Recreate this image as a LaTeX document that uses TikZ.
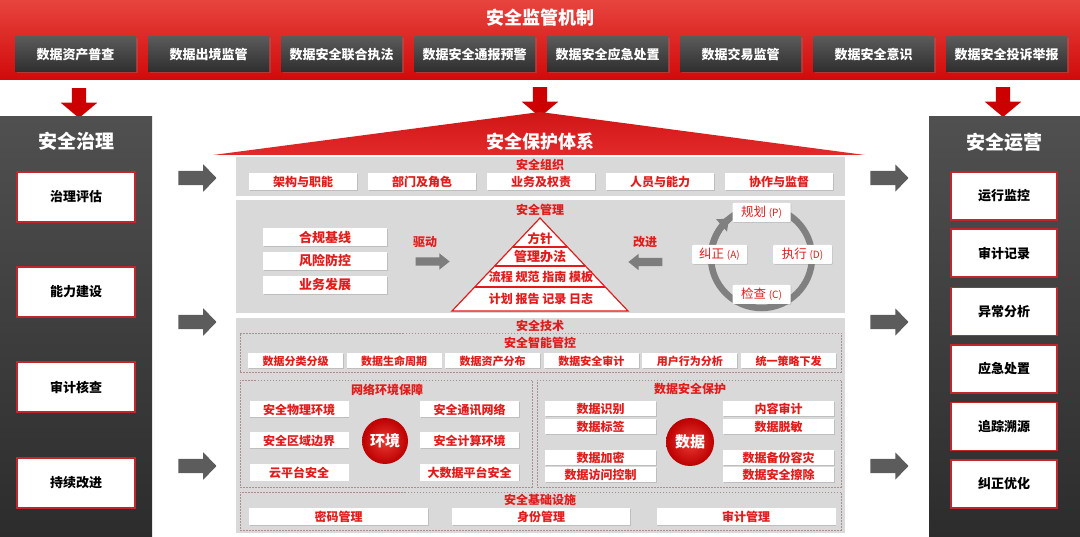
\documentclass[tikz,border=0pt]{standalone}
\usepackage{fontspec}
\setmainfont{Noto Sans CJK SC}
\usetikzlibrary{shapes.arrows,shadows,arrows.meta}
\definecolor{barTop}{HTML}{E8443E}
\definecolor{barBot}{HTML}{D00A0A}
\definecolor{dkTop}{HTML}{5A5A5A}
\definecolor{dkBot}{HTML}{2E2E2E}
\definecolor{pnTop}{HTML}{505050}
\definecolor{pnBot}{HTML}{2C2C2C}
\definecolor{arrGray}{HTML}{5C5C5C}
\definecolor{arrRed}{HTML}{CC0000}
\definecolor{secGray}{HTML}{D9D9D9}
\definecolor{txtRed}{HTML}{E31B1B}
\definecolor{boxRed}{HTML}{C0262B}
\definecolor{ringGray}{HTML}{808080}
\definecolor{dashCol}{HTML}{A89090}
\definecolor{circIn}{HTML}{EA3A34}
\definecolor{circOut}{HTML}{BC0000}
\definecolor{roofTop}{HTML}{D01515}
\definecolor{roofBot}{HTML}{E32A2A}
\newcommand\fz[1]{\fontsize{#1}{#1}\selectfont}
\begin{document}
\begin{tikzpicture}[x=1pt,y=-1pt,
  bar/.style={rectangle,inner sep=0,minimum width=1080,minimum height=80,top color=barTop,bottom color=barBot},
  wtitle/.style={text=white,font=\bfseries\fz{18},inner sep=0},
  mbox/.style={rectangle,inner sep=0,minimum width=121,minimum height=35,top color=dkTop,bottom color=dkBot,text=white,font=\bfseries\fz{13},drop shadow={shadow xshift=1.5pt,shadow yshift=-1.5pt,opacity=.35}},
  redarr/.style={single arrow,rotate=-90,fill=arrRed,inner xsep=0,inner ysep=7,minimum height=30,minimum width=36,single arrow head extend=11,single arrow tip angle=100},
  grayarr/.style={single arrow,fill=arrGray,inner xsep=0,inner ysep=7,minimum height=38,minimum width=27,single arrow head extend=6.5,single arrow tip angle=92},
  smallarr/.style={single arrow,fill=arrGray!80,inner xsep=0,inner ysep=4,minimum height=34,minimum width=16,single arrow head extend=4,single arrow tip angle=77},
  panel/.style={rectangle,inner sep=0,top color=pnTop,bottom color=pnBot},
  ptitle/.style={text=white,font=\bfseries\fz{19},inner sep=0},
  lbox/.style={rectangle,fill=white,draw=boxRed,line width=1.2,inner sep=0,font=\bfseries\fz{13},text=black,drop shadow={shadow xshift=1pt,shadow yshift=-1pt,opacity=.4}},
  sec/.style={rectangle,fill=secGray,inner sep=0,minimum width=609},
  stitle/.style={text=txtRed,font=\bfseries\fz{12},inner sep=0},
  wb/.style={rectangle,fill=white,inner sep=0,text=txtRed,font=\bfseries\fz{12},drop shadow={shadow xshift=.8pt,shadow yshift=-.8pt,opacity=.3}},
  dbox/.style={rectangle,draw=dashCol,dash pattern=on 1.5pt off 1.5pt,line width=.6,inner sep=0},
  rcirc/.style={circle,inner color=circIn,outer color=circOut,text=white,font=\bfseries\fz{15},inner sep=0},
  plbl/.style={rectangle,fill=white,text=txtRed,font=\fz{12.5},inner sep=0,minimum height=19,rounded corners=1,drop shadow={shadow xshift=.8pt,shadow yshift=-.8pt,opacity=.25}}
]
\useasboundingbox (0,0) rectangle (1080,537);
% top bar
\node[bar] (jz) at (540,40) {};
\node[wtitle] (jzt) at (540,18) {安全监管机制};
\foreach \i/\t in {0/数据资产普查,1/数据出境监管,2/数据安全联合执法,3/数据安全通报预警,4/数据安全应急处置,5/数据交易监管,6/数据安全意识,7/数据安全投诉举报}
  \node[mbox] (m\i) at ({75.5+133*\i},54.5) {\t};
% red arrows
\node[redarr] (ra1) at (79,100) {};
\node[redarr] (ra2) at (540,99) {};
\node[redarr] (ra3) at (1003,99) {};
% side panels
\node[panel,minimum width=152,minimum height=420] (zl) at (76,327) {};
\node[panel,minimum width=151,minimum height=420] (yy) at (1004.5,327) {};
\node[ptitle] (zlt) at (76,141) {安全治理};
\node[ptitle] (yyt) at (1004,142) {安全运营};
\foreach \i/\y/\t in {1/197/治理评估,2/292/能力建设,3/387/审计核查,4/483/持续改进}
  \node[lbox,minimum width=118,minimum height=50] (l\i) at (76,\y) {\t};
\foreach \i/\y/\t in {1/196/运行监控,2/253/审计记录,3/311.5/异常分析,4/369/应急处置,5/426.5/追踪溯源,6/484/纠正优化}
  \node[lbox,minimum width=106,minimum height=48] (r\i) at (1004,\y) {\t};
% gray arrows
\foreach \i/\y in {1/178,2/322,3/466}{
  \node[grayarr] (gl\i) at (194,\y) {};
  \node[grayarr] (gr\i) at (886,\y) {};
}
% roof
\shade[top color=roofTop,bottom color=roofBot] (213,155) -- (540,112) -- (865,155) -- cycle;
\node[wtitle] (bht) at (540,142) {安全保护体系};
% section 1
\node[sec,minimum height=39] (s1) at (540.5,176.5) {};
\node[stitle] (s1t) at (540,165) {安全组织};
\foreach \i/\t in {0/架构与职能,1/部门及角色,2/业务及权责,3/人员与能力,4/协作与监督}
  \node[wb,minimum width=108,minimum height=17] (o\i) at ({303+119*\i},181.5) {\t};
% section 2
\node[sec,minimum height=113] (s2) at (540.5,257) {};
\node[stitle] (s2t) at (540,210) {安全管理};
\node[wb,minimum width=124,minimum height=18,font=\bfseries\fz{13}] (g1) at (325,237.5) {合规基线};
\node[wb,minimum width=124,minimum height=18,font=\bfseries\fz{13}] (g2) at (325,261) {风险防控};
\node[wb,minimum width=124,minimum height=18,font=\bfseries\fz{13}] (g3) at (325,285) {业务发展};
\node[stitle] (qd) at (425,242) {驱动};
\node[smallarr] (qda) at (430,261.5) {};
\node[stitle] (gj) at (645,242) {改进};
\node[smallarr,rotate=180] (gja) at (648,262) {};
% pyramid
\draw[fill=white,draw=txtRed,line width=1.2] (452,311) -- (540,218) -- (628,311) -- cycle;
\draw[txtRed,line width=1.2] (512.6,247) -- (567.4,247) (494.6,266) -- (585.4,266) (474.7,287) -- (605.3,287);
\node[stitle,font=\bfseries\fz{12.5}] (p1) at (540,238.5) {方针};
\node[stitle,font=\bfseries\fz{13}] (p2) at (540,256.5) {管理办法};
\node[stitle,font=\bfseries\fz{12}] (p3) at (541,277) {流程 规范 指南 模板};
\node[stitle,font=\bfseries\fz{12}] (p4) at (541,299) {计划 报告 记录 日志};
% PDCA
\node[circle,draw=ringGray,line width=6.5,minimum size=101,inner sep=0] (pdca) at (761.5,257.5) {};
\draw[ringGray,line width=6.5,-{Triangle[length=10pt,width=16pt]}] plot[domain=170:130,samples=20] ({761.5+50.5*cos(\x)},{257.5-50.5*sin(\x)});
\node[plbl,minimum width=58] (pP) at (761.5,212.5) {规划 {\fz{10}(P)}};
\node[plbl,minimum width=55] (pA) at (719.5,254.5) {纠正 {\fz{10}(A)}};
\node[plbl,minimum width=59] (pD) at (802.5,254.5) {执行 {\fz{10}(D)}};
\node[plbl,minimum width=58] (pC) at (761.5,294.5) {检查 {\fz{10}(C)}};
% section 3
\node[sec,minimum height=215] (s3) at (540.5,425.5) {};
\node[stitle] (s3t) at (540,326) {安全技术};
\node[dbox,minimum width=601,minimum height=39] (da) at (540.5,352.5) {};
\node[stitle] (dat) at (540,343) {安全智能管控};
\foreach \i/\t in {0/数据分类分级,1/数据生命周期,2/数据资产分布,3/数据安全审计,4/用户行为分析,5/统一策略下发}
  \node[wb,minimum width=95,minimum height=15,font=\bfseries\fz{11}] (z\i) at ({295.5+98.6*\i},361) {\t};
% network
\node[dbox,minimum width=292,minimum height=107] (db) at (386,433.5) {};
\node[stitle] (dbt) at (387,390) {网络环境保障};
\node[wb,minimum width=99,minimum height=16] (n1) at (299,409.5) {安全物理环境};
\node[wb,minimum width=99,minimum height=16] (n2) at (299,440.5) {安全区域边界};
\node[wb,minimum width=99,minimum height=16] (n3) at (299,472.5) {云平台安全};
\node[wb,minimum width=99,minimum height=16] (n4) at (469.5,409.5) {安全通讯网络};
\node[wb,minimum width=99,minimum height=16] (n5) at (469.5,440.5) {安全计算环境};
\node[wb,minimum width=99,minimum height=16] (n6) at (469.5,472.5) {大数据平台安全};
\node[rcirc,minimum size=46] (hj) at (385,441) {环境};
% data
\node[dbox,minimum width=304,minimum height=107] (dc) at (689,433.5) {};
\node[stitle] (dct) at (690,389) {数据安全保护};
\node[wb,minimum width=111,minimum height=15] (d1) at (600.5,408.5) {数据识别};
\node[wb,minimum width=111,minimum height=15] (d2) at (600.5,426.5) {数据标签};
\node[wb,minimum width=111,minimum height=15] (d3) at (600.5,457.5) {数据加密};
\node[wb,minimum width=111,minimum height=15] (d4) at (600.5,474.5) {数据访问控制};
\node[wb,minimum width=111,minimum height=15] (d5) at (778.5,408.5) {内容审计};
\node[wb,minimum width=111,minimum height=15] (d6) at (778.5,426.5) {数据脱敏};
\node[wb,minimum width=111,minimum height=15] (d7) at (778.5,457.5) {数据备份容灾};
\node[wb,minimum width=111,minimum height=15] (d8) at (778.5,474.5) {数据安全擦除};
\node[rcirc,minimum size=48] (sj) at (690,442) {数据};
% infrastructure
\node[dbox,minimum width=601,minimum height=38] (dd) at (540.5,511) {};
\node[stitle] (ddt) at (540,500) {安全基础设施};
\node[wb,minimum width=179,minimum height=17] (i1) at (338.5,516.5) {密码管理};
\node[wb,minimum width=178,minimum height=17] (i2) at (541,516.5) {身份管理};
\node[wb,minimum width=179,minimum height=17] (i3) at (746,516.5) {审计管理};
\end{tikzpicture}
\end{document}
